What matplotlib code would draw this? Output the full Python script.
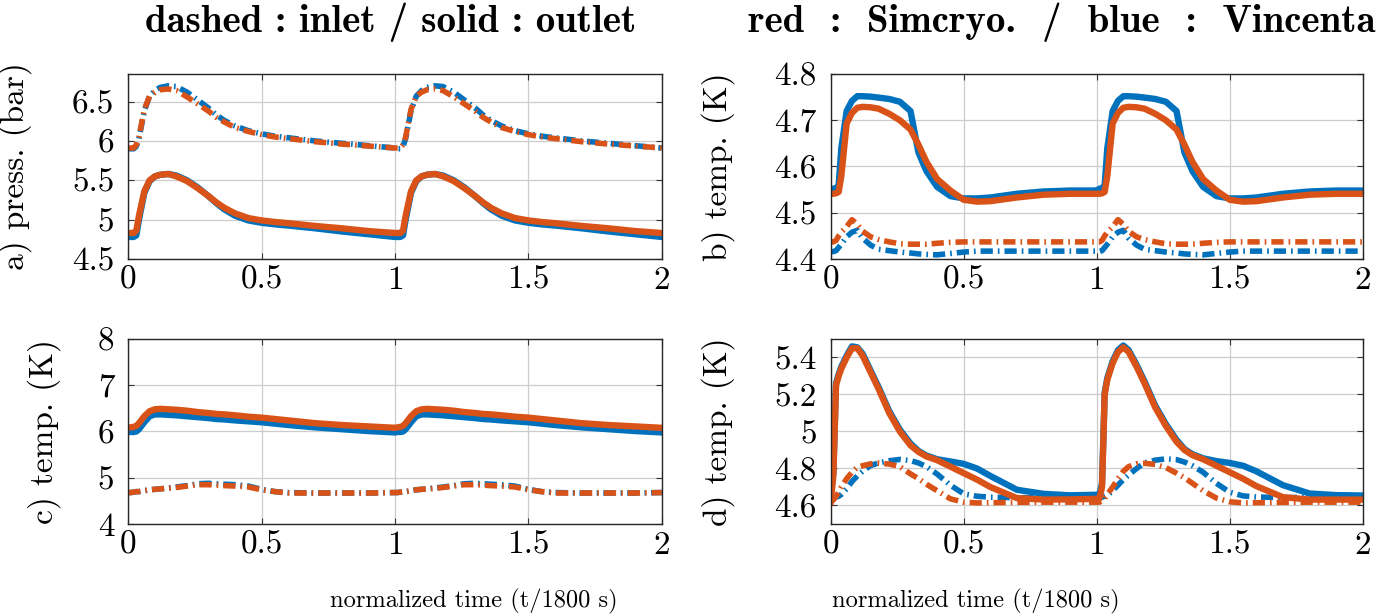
import matplotlib
matplotlib.use("Agg")
import matplotlib.pyplot as plt
import numpy as np

# ---------------- data ----------------
t = [0.00, 0.01, 0.02, 0.03, 0.04, 0.06, 0.08, 0.10, 0.12, 0.15, 0.18, 0.22, 0.26,
     0.30, 0.33, 0.36, 0.40, 0.45, 0.50, 0.55, 0.60, 0.70, 0.80, 0.90, 1.00,
     1.01, 1.02, 1.03, 1.04, 1.06, 1.08, 1.10, 1.12, 1.15, 1.18, 1.22, 1.26,
     1.30, 1.33, 1.36, 1.40, 1.45, 1.50, 1.55, 1.60, 1.70, 1.80, 1.90, 2.00]

# a) pressure (bar)
a_out_sim = [4.83, 4.83, 4.83, 4.86, 5.05, 5.36, 5.50, 5.55, 5.57, 5.58, 5.55, 5.49, 5.40,
             5.30, 5.22, 5.15, 5.08, 5.02, 4.99, 4.97, 4.955, 4.92, 4.89, 4.855, 4.83,
             4.83, 4.83, 4.86, 5.05, 5.36, 5.50, 5.55, 5.57, 5.58, 5.55, 5.49, 5.40,
             5.30, 5.22, 5.15, 5.08, 5.02, 4.99, 4.97, 4.955, 4.92, 4.89, 4.855, 4.83]
a_out_vin = [4.78, 4.78, 4.78, 4.80, 5.00, 5.34, 5.49, 5.55, 5.57, 5.58, 5.56, 5.50, 5.41,
             5.30, 5.21, 5.13, 5.05, 4.99, 4.96, 4.94, 4.925, 4.89, 4.85, 4.815, 4.78,
             4.78, 4.78, 4.80, 5.00, 5.34, 5.49, 5.55, 5.57, 5.58, 5.56, 5.50, 5.41,
             5.30, 5.21, 5.13, 5.05, 4.99, 4.96, 4.94, 4.925, 4.89, 4.85, 4.815, 4.78]
a_in_sim = [5.91, 5.91, 5.91, 5.95, 6.05, 6.40, 6.57, 6.62, 6.65, 6.66, 6.64, 6.56, 6.47,
            6.38, 6.30, 6.24, 6.17, 6.12, 6.08, 6.05, 6.03, 5.99, 5.96, 5.935, 5.91,
            5.91, 5.91, 5.95, 6.05, 6.40, 6.57, 6.62, 6.65, 6.66, 6.64, 6.56, 6.47,
            6.38, 6.30, 6.24, 6.17, 6.12, 6.08, 6.05, 6.03, 5.99, 5.96, 5.935, 5.91]
a_in_vin = [5.90, 5.90, 5.90, 5.93, 6.03, 6.38, 6.57, 6.64, 6.68, 6.70, 6.69, 6.62, 6.52,
            6.42, 6.33, 6.26, 6.19, 6.13, 6.09, 6.06, 6.04, 6.00, 5.97, 5.94, 5.91,
            5.90, 5.90, 5.93, 6.03, 6.38, 6.57, 6.64, 6.68, 6.70, 6.69, 6.62, 6.52,
            6.42, 6.33, 6.26, 6.19, 6.13, 6.09, 6.06, 6.04, 6.00, 5.97, 5.94, 5.91]

# b) temperature (K)
b_out_sim = [4.541, 4.541, 4.542, 4.545, 4.58, 4.693, 4.716, 4.727, 4.729, 4.728, 4.725, 4.714, 4.70,
             4.68, 4.647, 4.61, 4.573, 4.548, 4.528, 4.524, 4.525, 4.533, 4.539, 4.541, 4.541,
             4.541, 4.542, 4.545, 4.58, 4.693, 4.716, 4.727, 4.729, 4.728, 4.725, 4.714, 4.70,
             4.68, 4.647, 4.61, 4.573, 4.548, 4.528, 4.524, 4.525, 4.533, 4.539, 4.541, 4.541]
b_out_vin = [4.552, 4.552, 4.552, 4.56, 4.64, 4.72, 4.742, 4.752, 4.752, 4.751, 4.749, 4.746, 4.740,
             4.72, 4.63, 4.59, 4.556, 4.536, 4.531, 4.531, 4.533, 4.541, 4.546, 4.548, 4.548,
             4.552, 4.552, 4.56, 4.64, 4.72, 4.742, 4.752, 4.752, 4.751, 4.749, 4.746, 4.740,
             4.72, 4.63, 4.59, 4.556, 4.536, 4.531, 4.531, 4.533, 4.541, 4.546, 4.548, 4.548]
b_in_sim = [4.437, 4.437, 4.44, 4.45, 4.458, 4.47, 4.485, 4.475, 4.46, 4.448, 4.442, 4.437, 4.433,
            4.432, 4.432, 4.432, 4.434, 4.436, 4.437, 4.437, 4.437, 4.437, 4.437, 4.437, 4.437,
            4.437, 4.44, 4.45, 4.458, 4.47, 4.485, 4.475, 4.46, 4.448, 4.442, 4.437, 4.433,
            4.432, 4.432, 4.432, 4.434, 4.436, 4.437, 4.437, 4.437, 4.437, 4.437, 4.437, 4.437]
b_in_vin = [4.416, 4.416, 4.418, 4.425, 4.432, 4.448, 4.458, 4.462, 4.445, 4.43, 4.421, 4.418, 4.415,
            4.413, 4.411, 4.41, 4.409, 4.412, 4.415, 4.417, 4.417, 4.417, 4.417, 4.417, 4.417,
            4.416, 4.418, 4.425, 4.432, 4.448, 4.458, 4.462, 4.445, 4.43, 4.421, 4.418, 4.415,
            4.413, 4.411, 4.41, 4.409, 4.412, 4.415, 4.417, 4.417, 4.417, 4.417, 4.417, 4.417]

# c) temperature (K)
c_out_sim = [6.09, 6.09, 6.10, 6.12, 6.18, 6.33, 6.44, 6.48, 6.49, 6.48, 6.47, 6.45, 6.42,
             6.40, 6.38, 6.37, 6.35, 6.32, 6.30, 6.27, 6.24, 6.18, 6.14, 6.11, 6.08,
             6.09, 6.10, 6.12, 6.18, 6.33, 6.44, 6.48, 6.49, 6.48, 6.47, 6.45, 6.42,
             6.40, 6.38, 6.37, 6.35, 6.32, 6.30, 6.27, 6.24, 6.18, 6.14, 6.11, 6.08]
c_out_vin = [5.99, 5.99, 5.99, 6.00, 6.05, 6.20, 6.33, 6.37, 6.37, 6.36, 6.35, 6.33, 6.31,
             6.29, 6.27, 6.26, 6.24, 6.22, 6.20, 6.17, 6.14, 6.09, 6.05, 6.01, 5.98,
             5.99, 5.99, 6.00, 6.05, 6.20, 6.33, 6.37, 6.37, 6.36, 6.35, 6.33, 6.31,
             6.29, 6.27, 6.26, 6.24, 6.22, 6.20, 6.17, 6.14, 6.09, 6.05, 6.01, 5.98]
c_in_sim = [4.68, 4.68, 4.69, 4.70, 4.70, 4.72, 4.74, 4.75, 4.76, 4.77, 4.79, 4.82, 4.85,
            4.85, 4.84, 4.83, 4.82, 4.80, 4.74, 4.70, 4.67, 4.67, 4.67, 4.67, 4.68,
            4.68, 4.69, 4.70, 4.70, 4.72, 4.74, 4.75, 4.76, 4.77, 4.79, 4.82, 4.85,
            4.85, 4.84, 4.83, 4.82, 4.80, 4.74, 4.70, 4.67, 4.67, 4.67, 4.67, 4.68]
c_in_vin = [4.68, 4.68, 4.69, 4.70, 4.70, 4.72, 4.74, 4.75, 4.76, 4.78, 4.80, 4.83, 4.87,
            4.88, 4.87, 4.86, 4.85, 4.82, 4.75, 4.70, 4.68, 4.67, 4.67, 4.67, 4.68,
            4.68, 4.69, 4.70, 4.70, 4.72, 4.74, 4.75, 4.76, 4.78, 4.80, 4.83, 4.87,
            4.88, 4.87, 4.86, 4.85, 4.82, 4.75, 4.70, 4.68, 4.67, 4.67, 4.67, 4.68]

# d) temperature (K)
d_out_sim = [4.62, 4.76, 5.25, 5.30, 5.34, 5.40, 5.45, 5.45, 5.41, 5.32, 5.23, 5.10, 5.00,
             4.925, 4.89, 4.865, 4.845, 4.81, 4.775, 4.74, 4.70, 4.64, 4.632, 4.633, 4.636,
             4.636, 4.70, 5.20, 5.28, 5.37, 5.43, 5.455, 5.43, 5.35, 5.26, 5.13, 5.03,
             4.945, 4.90, 4.872, 4.85, 4.815, 4.78, 4.745, 4.705, 4.645, 4.632, 4.632, 4.632]
d_out_vin = [4.66, 4.78, 5.26, 5.31, 5.35, 5.41, 5.46, 5.455, 5.42, 5.33, 5.24, 5.11, 5.01,
             4.935, 4.895, 4.87, 4.85, 4.838, 4.825, 4.80, 4.76, 4.685, 4.663, 4.655, 4.658,
             4.658, 4.72, 5.21, 5.29, 5.38, 5.44, 5.465, 5.44, 5.36, 5.27, 5.14, 5.04,
             4.955, 4.905, 4.877, 4.855, 4.84, 4.83, 4.815, 4.785, 4.71, 4.665, 4.656, 4.654]
d_in_sim = [4.618, 4.63, 4.65, 4.67, 4.70, 4.745, 4.78, 4.807, 4.815, 4.825, 4.829, 4.824, 4.81,
            4.771, 4.745, 4.715, 4.68, 4.636, 4.618, 4.614, 4.615, 4.617, 4.618, 4.618, 4.618,
            4.618, 4.625, 4.64, 4.66, 4.70, 4.745, 4.785, 4.81, 4.825, 4.828, 4.822, 4.805,
            4.775, 4.75, 4.72, 4.68, 4.64, 4.62, 4.614, 4.615, 4.617, 4.618, 4.618, 4.618]
d_in_vin = [4.636, 4.64, 4.645, 4.65, 4.66, 4.69, 4.73, 4.76, 4.785, 4.816, 4.83, 4.842, 4.849,
            4.843, 4.83, 4.81, 4.77, 4.71, 4.663, 4.65, 4.645, 4.642, 4.643, 4.645, 4.645,
            4.645, 4.645, 4.65, 4.655, 4.68, 4.71, 4.74, 4.765, 4.80, 4.83, 4.845, 4.852,
            4.848, 4.835, 4.815, 4.78, 4.72, 4.672, 4.652, 4.646, 4.643, 4.644, 4.645, 4.645]

x_ticks = [0, 0.5, 1, 1.5, 2]
x_ticklabels = ["0", "0.5", "1", "1.5", "2"]

ylabels = ["a) press. (bar)", "b) temp. (K)", "c) temp. (K)", "d) temp. (K)"]
y_ticks = [[4.5, 5, 5.5, 6, 6.5], [4.4, 4.5, 4.6, 4.7, 4.8], [4, 5, 6, 7, 8],
           [4.6, 4.8, 5.0, 5.2, 5.4]]
y_ticklabels = [["4.5", "5", "5.5", "6", "6.5"], ["4.4", "4.5", "4.6", "4.7", "4.8"],
                ["4", "5", "6", "7", "8"], ["4.6", "4.8", "5", "5.2", "5.4"]]
y_lims = [(4.5, 6.85), (4.4, 4.8), (4, 8), (4.5, 5.5)]

title_left = "dashed : inlet / solid : outlet"
title_right = "red  :  Simcryo.  /  blue  :  Vincenta"
xlabel_text = "normalized time (t/1800 s)"

# ---------------- style ----------------
BLUE = "#0072BD"
ORANGE = "#D95319"
W, H = 1383, 614
plt.rcParams["font.family"] = ["cmr10", "DejaVu Serif"]
plt.rcParams["axes.formatter.use_mathtext"] = True

fig = plt.figure(figsize=(W / 100, H / 100), dpi=100)

def box(l, r, top, bot):
    return [l / W, 1 - bot / H, (r - l) / W, (bot - top) / H]

rects = [box(128.3, 661.7, 74, 259), box(830.7, 1362.7, 74, 259),
         box(128.3, 661.7, 339, 524), box(830.7, 1362.7, 339, 524)]

series = [(a_in_vin, a_in_sim, a_out_vin, a_out_sim),
          (b_in_vin, b_in_sim, b_out_vin, b_out_sim),
          (c_in_vin, c_in_sim, c_out_vin, c_out_sim),
          (d_in_vin, d_in_sim, d_out_vin, d_out_sim)]

dashdot = (0, (2.2, 0.9, 0.3, 0.9))
label_x_px = [32, 735, 61, 735]

for i, rect in enumerate(rects):
    ax = fig.add_axes(rect)
    in_v, in_s, out_v, out_s = series[i]
    ax.plot(t, in_v, color=BLUE, lw=4.0, linestyle=dashdot, dash_capstyle="butt")
    ax.plot(t, in_s, color=ORANGE, lw=4.0, linestyle=dashdot, dash_capstyle="butt")
    ax.plot(t, out_v, color=BLUE, lw=4.6, solid_joinstyle="round")
    ax.plot(t, out_s, color=ORANGE, lw=4.6, solid_joinstyle="round")
    ax.set_xlim(0, 2)
    ax.set_ylim(*y_lims[i])
    ax.set_xticks(x_ticks)
    ax.set_xticklabels(x_ticklabels)
    ax.set_yticks(y_ticks[i])
    ax.set_yticklabels(y_ticklabels[i])
    ax.grid(True, color="#cccccc", lw=0.9)
    ax.set_axisbelow(True)
    ax.tick_params(direction="in", length=4, width=0.8, color="#333333",
                   top=True, right=True, labelsize=24)
    ax.tick_params(axis="y", pad=10)
    ax.tick_params(axis="x", pad=5)
    for s in ax.spines.values():
        s.set_color("#262626")
        s.set_linewidth(1.0)
    ax.set_ylabel(ylabels[i], fontsize=24)
    l_px = rect[0] * W
    w_px = rect[2] * W
    ax.yaxis.set_label_coords((label_x_px[i] - l_px) / w_px, 0.5)

fig.text(145 / W, 1 - 22 / H, title_left, fontsize=28, family="cmb10",
         ha="left", va="center")
fig.text(748 / W, 1 - 22 / H, title_right, fontsize=28, family="cmb10",
         ha="left", va="center")
fig.text(330 / W, 1 - 601 / H, xlabel_text, fontsize=17.6, ha="left", va="center")
fig.text(832 / W, 1 - 601 / H, xlabel_text, fontsize=17.6, ha="left", va="center")

fig.savefig("out.png", dpi=100)
